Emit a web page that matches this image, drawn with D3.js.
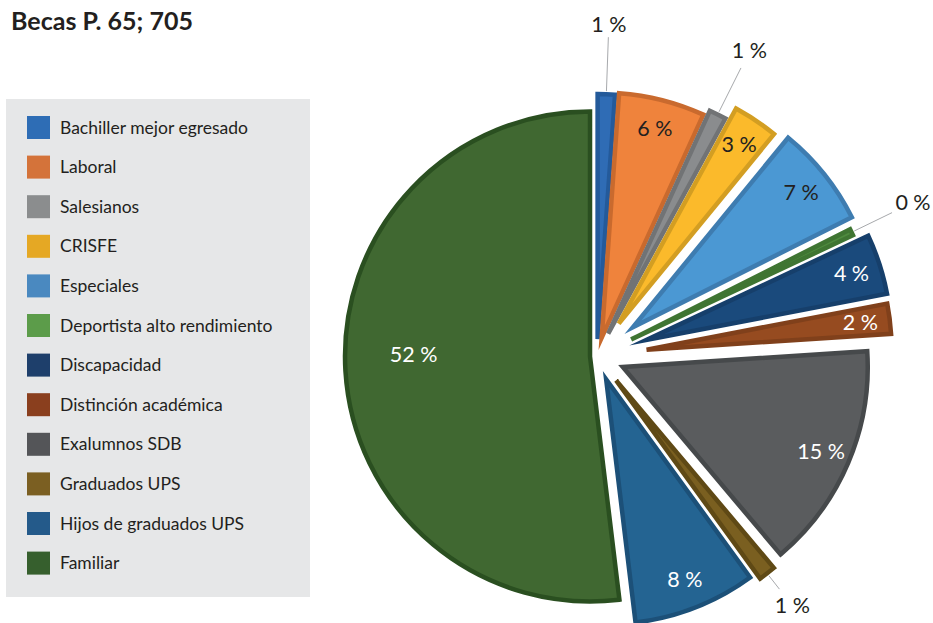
<!DOCTYPE html>
<html>
<head>
<meta charset="utf-8">
<script src="https://cdn.jsdelivr.net/npm/d3@7"></script>
<style>
body { margin: 0; background: #fff; }
text { font-family: Lato, "Open Sans", sans-serif; }
</style>
</head>
<body>
<div id="chart"></div>
<script>
const title = "Becas P. 65; 705";
const categories = ["Bachiller mejor egresado", "Laboral", "Salesianos", "CRISFE", "Especiales",
    "Deportista alto rendimiento", "Discapacidad", "Distinción académica", "Exalumnos SDB",
    "Graduados UPS", "Hijos de graduados UPS", "Familiar"];
const counts = [8, 40, 8, 21, 47, 3, 28, 14, 105, 8, 57, 366];

// styling
const legendColors = ["#2e6db5", "#d4733a", "#8b8d8e", "#e5a824", "#4a89c0", "#5c9c4a",
    "#1e3f6b", "#8a3f1e", "#545558", "#7b5f22", "#245a8a", "#365f2d"];
const fillColors = ["#2f6cb5", "#ef833c", "#8a8c8e", "#fbba2b", "#4b98d3", "#4e8a3e",
    "#1a4a7c", "#964b20", "#5a5c5e", "#7a5f20", "#246492", "#406831"];
const strokeColors = ["#245a9a", "#c96a2e", "#717375", "#d39e22", "#3e7cb0", "#3f7532",
    "#163f6b", "#80401b", "#46494b", "#5f4915", "#1c5078", "#2a4f20"];
const explode = [17, 19, 25, 39, 46, 38, 52, 50, 28, 31, 25, 7];
const leaderLen = {0: 57, 2: 52, 5: 45, 9: 20};
const darkText = [1, 3, 4];

const width = 933, height = 623;
const cx = 597, cy = 356, radius = 245;

const data = categories.map(function(c, i) { return {name: c, count: counts[i], i: i}; });
const total = d3.sum(counts);

const svg = d3.select("#chart").append("svg")
    .attr("width", width)
    .attr("height", height);

svg.append("text")
    .attr("x", 11)
    .attr("y", 30)
    .style("font-size", "25px")
    .style("font-weight", "bold")
    .attr("fill", "#231f20")
    .text(title);

// legend
svg.append("rect")
    .attr("x", 6).attr("y", 99)
    .attr("width", 304).attr("height", 498)
    .attr("fill", "#e6e7e8");

const legend = svg.selectAll(".legend")
    .data(data)
    .enter().append("g")
    .attr("transform", function(d, i) { return "translate(27," + (116 + i * 39.6) + ")"; });

legend.append("rect")
    .attr("width", 23).attr("height", 23)
    .attr("fill", function(d) { return legendColors[d.i]; });

legend.append("text")
    .attr("x", 33)
    .attr("y", 11.5)
    .attr("dy", ".35em")
    .style("font-size", "17.5px")
    .attr("fill", "#231f20")
    .text(function(d) { return d.name; });

// pie
const pie = d3.pie().sort(null).value(function(d) { return d.count; });
const arcs = pie(data);
const arc = d3.arc().innerRadius(0).outerRadius(radius);

function mid(a) { return (a.startAngle + a.endAngle) / 2; }
function polar(r, ang) { return [Math.sin(ang) * r, -Math.cos(ang) * r]; }
const pct = function(d) { return Math.round(d.count / total * 100) + " %"; };

const g = svg.append("g").attr("transform", "translate(" + cx + "," + cy + ")");

const slices = g.selectAll(".slice")
    .data(arcs)
    .enter().append("g")
    .attr("transform", function(a) {
        const p = polar(explode[a.data.i], mid(a));
        return "translate(" + p[0] + "," + p[1] + ")";
    });

slices.append("path")
    .attr("d", arc)
    .attr("fill", function(a) { return fillColors[a.data.i]; })
    .attr("stroke", function(a) { return strokeColors[a.data.i]; })
    .attr("stroke-width", 4.5)
    .attr("stroke-linejoin", "miter")
    .attr("stroke-miterlimit", 10);

// labels inside
slices.filter(function(a) { return leaderLen[a.data.i] === undefined; })
    .append("text")
    .attr("transform", function(a) {
        const big = a.data.count / total > 0.3;
        const p = polar(big ? radius * 0.72 : radius * 0.88, big ? mid(a) + 0.07 : mid(a));
        return "translate(" + p[0] + "," + p[1] + ")";
    })
    .attr("text-anchor", "middle")
    .attr("dy", ".35em")
    .style("font-size", "21.5px")
    .attr("fill", function(a) { return darkText.indexOf(a.data.i) >= 0 ? "#231f20" : "#ffffff"; })
    .text(function(a) { return pct(a.data); });

// labels outside with leader lines
const outer = g.selectAll(".outer")
    .data(arcs.filter(function(a) { return leaderLen[a.data.i] !== undefined; }))
    .enter().append("g");

outer.append("line")
    .attr("x1", function(a) { return polar(radius + explode[a.data.i] + 3, mid(a))[0]; })
    .attr("y1", function(a) { return polar(radius + explode[a.data.i] + 3, mid(a))[1]; })
    .attr("x2", function(a) { return polar(radius + explode[a.data.i] + leaderLen[a.data.i], mid(a))[0]; })
    .attr("y2", function(a) { return polar(radius + explode[a.data.i] + leaderLen[a.data.i], mid(a))[1]; })
    .attr("stroke", "#a7a9ac")
    .attr("stroke-width", 1);

outer.append("text")
    .attr("text-anchor", "middle")
    .attr("dy", ".35em")
    .style("font-size", "21.5px")
    .attr("fill", "#231f20")
    .text(function(a) { return pct(a.data); })
    .attr("transform", function(a) {
        const w = this.getComputedTextLength();
        const m = mid(a);
        const ext = Math.abs(Math.sin(m)) * w / 2 + Math.abs(Math.cos(m)) * 8;
        const p = polar(radius + explode[a.data.i] + leaderLen[a.data.i] + ext + 4, m);
        return "translate(" + p[0] + "," + p[1] + ")";
    });
</script>
</body>
</html>
